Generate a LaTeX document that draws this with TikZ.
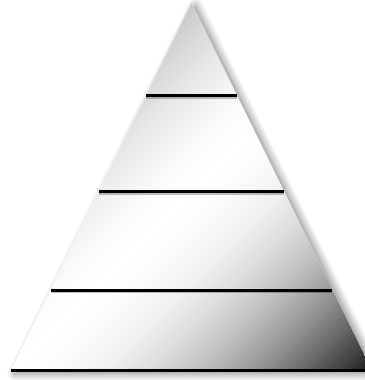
\documentclass[tikz,border=0pt]{standalone}
\usetikzlibrary{calc,shadows.blur}
\begin{document}
\begin{tikzpicture}[x=1pt,y=-1pt,
  tier/.style={line width=3pt, black},
  tiershadow/.style={line width=2pt, black, opacity=0.25},
  pyr/.style={blur shadow={shadow xshift=4pt, shadow yshift=-3pt, shadow blur radius=8pt, shadow blur steps=14, shadow opacity=50}}]
\useasboundingbox (0,0) rectangle (364,380);
\coordinate (A) at (191.5,3);
\coordinate (L) at (11,370.5);
\coordinate (R) at (372,370.5);
\path[pyr, fill=white] (A) -- (L) -- (R) -- cycle;
\begin{scope}
  \clip (A) -- (L) -- (R) -- cycle;
  \foreach \i in {0,...,119} {
    \pgfmathsetmacro\tt{(\i+0.5)/120}
    \pgfmathsetmacro\uu{abs(\tt-0.5)/0.5+0.0001}
    \pgfmathsetmacro\g{\tt<0.5 ? 1-0.6*(\uu)^1.5 : 1-0.9*(\uu)^2}
    \pgfmathsetmacro\a{\i*6.0667}
    \pgfmathsetmacro\b{(\i+1)*6.0667+0.6}
    \definecolor{stripc}{gray}{\g}
    \fill[stripc] (11+\a-500,503) -- (11+\a+500,-497) -- (11+\b+500,-497) -- (11+\b-500,503) -- cycle;
  }
\end{scope}
\coordinate (l1) at ($(A)!0.253!(L)$);
\coordinate (r1) at ($(A)!0.253!(R)$);
\coordinate (l2) at ($(A)!0.513!(L)$);
\coordinate (r2) at ($(A)!0.513!(R)$);
\coordinate (l3) at ($(A)!0.781!(L)$);
\coordinate (r3) at ($(A)!0.781!(R)$);
\foreach \p in {1,2,3} {
  \draw[tiershadow] ([yshift=-2pt]l\p) -- ([yshift=-2pt]r\p);
  \draw[tier] (l\p) -- (r\p);
}
\draw[tier] (L) -- (R);
\end{tikzpicture}
\end{document}
